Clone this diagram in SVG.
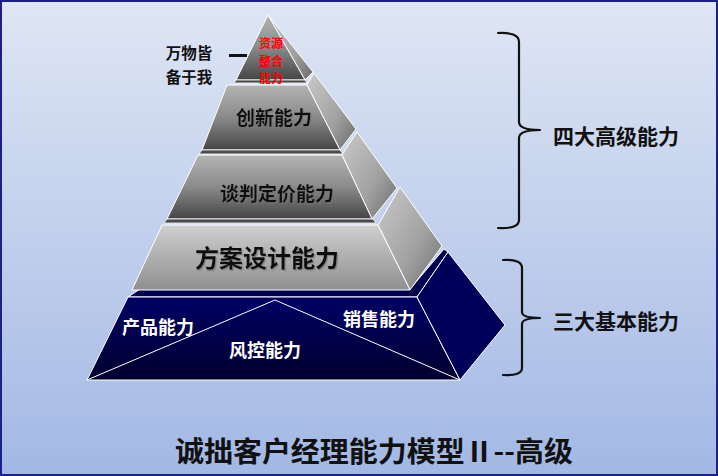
<svg xmlns="http://www.w3.org/2000/svg" width="718" height="476" viewBox="0 0 718 476">
<defs>
<linearGradient id="bg" x1="0" y1="0" x2="0" y2="1">
<stop offset="0" stop-color="#dfe6f4"/>
<stop offset="1" stop-color="#a2b8e4"/>
</linearGradient>
<linearGradient id="gDark" x1="0" y1="0" x2="0" y2="1">
<stop offset="0" stop-color="#b4b4b4"/>
<stop offset="0.5" stop-color="#8a8a8a"/>
<stop offset="1" stop-color="#454545"/>
</linearGradient>
<linearGradient id="gLight" x1="0" y1="0" x2="0" y2="1">
<stop offset="0" stop-color="#cfcfcf"/>
<stop offset="1" stop-color="#8f8f8f"/>
</linearGradient>
<linearGradient id="gSide" x1="0" y1="0" x2="1" y2="1">
<stop offset="0" stop-color="#cacaca"/>
<stop offset="0.6" stop-color="#a0a0a0"/>
<stop offset="1" stop-color="#6a6a6a"/>
</linearGradient>
<linearGradient id="gBlue" x1="0" y1="0" x2="0" y2="1">
<stop offset="0" stop-color="#000066"/>
<stop offset="1" stop-color="#00002e"/>
</linearGradient>
<filter id="sh" x="-10%" y="-10%" width="130%" height="140%">
<feDropShadow dx="1.2" dy="1.2" stdDeviation="0.6" flood-color="#777" flood-opacity="0.8"/>
</filter>
</defs>
<style>
.edge{stroke:#ffffff;stroke-width:1;stroke-linejoin:round}
.strip{fill:#4a4a4a;stroke:#ffffff;stroke-width:0.8}
.lbl{font-family:"Noto Sans CJK SC","Noto Sans",sans-serif;font-weight:bold;fill:#111;text-anchor:middle}
.wlbl{font-family:"Noto Sans CJK SC","Noto Sans",sans-serif;font-weight:bold;fill:#ffffff;text-anchor:middle}
.red{font-family:"Noto Sans CJK SC","Noto Sans",sans-serif;font-weight:bold;fill:#ff0000;text-anchor:middle;font-size:12px}
.brace{fill:none;stroke:#111;stroke-width:2.2;stroke-linejoin:round;stroke-linecap:round}
</style>
<rect x="1" y="1" width="716" height="474" fill="url(#bg)" stroke="#1e1e8c" stroke-width="2"/>

<g id="base-layer">
<polygon points="128,297 140,289 410,289 444,249 448,252 417,297" fill="#000050" class="edge"/>
<polygon points="128,297 417,297 460,380 87,380" fill="url(#gBlue)" class="edge"/>
<polygon points="417,297 448,252 505,325 460,380" fill="#00005a" class="edge"/>
<polyline points="87,380 275,300 460,380" fill="none" stroke="#ffffff" stroke-width="1"/>
<text class="wlbl" x="158" y="334" font-size="18">产品能力</text>
<text class="wlbl" x="265" y="357" font-size="18">风控能力</text>
<text class="wlbl" x="379" y="326" font-size="18">销售能力</text>
</g>

<g id="layer-fangan">
<polygon points="378,225 400,187 442,246 410,290" fill="url(#gSide)" class="edge"/>
<polygon points="162,225 378,225 410,290 132,290" fill="url(#gLight)" class="edge"/>
<text class="lbl" x="267" y="267" font-size="24" filter="url(#sh)">方案设计能力</text>
</g>

<g id="layer-tanpan">
<polygon points="342,155 357,132 397,188 372,219" fill="url(#gSide)" class="edge"/>
<polygon points="198,155 342,155 372,219 167,219" fill="url(#gDark)" class="edge"/>
<polygon points="167,219 373,219 376,223 164,223" class="strip"/>
<text class="lbl" x="277" y="201" font-size="19" filter="url(#sh)">谈判定价能力</text>
</g>

<g id="layer-chuangxin">
<polygon points="307,85 314,73 356,129 340,150" fill="url(#gSide)" class="edge"/>
<polygon points="227,85 307,85 340,150 202,150" fill="url(#gDark)" class="edge"/>
<polygon points="202,150 340,150 343,154 199,154" class="strip"/>
<text class="lbl" x="274" y="125" font-size="19" filter="url(#sh)">创新能力</text>
</g>

<g id="layer-ziyuan">
<polygon points="268,15 313,72 305,80" fill="url(#gSide)" class="edge"/>
<polygon points="268,15 305,80 236,80" fill="url(#gDark)" class="edge"/>
<polygon points="236,80 305,80 307,83 234,83" class="strip"/>
<text class="red" x="271" y="48">资源</text>
<text class="red" x="271" y="65.5">整合</text>
<text class="red" x="271" y="83">能力</text>
</g>

<g id="note">
<text class="lbl" x="189" y="59" font-size="15.5">万物皆</text>
<text class="lbl" x="189" y="83" font-size="15.5">备于我</text>
<line x1="229" y1="55.5" x2="247" y2="55.5" stroke="#111" stroke-width="3"/>
</g>

<g id="connectors">
<path class="brace" d="M498,33 Q519,32 519,42 L519,122 Q519,130 540,130 Q519,130 519,138 L519,220 Q519,229 498,228"/>
<path class="brace" d="M503,260 Q522,259 522,268 L522,312 Q522,318 540,318 Q522,318 522,324 L522,368 Q522,376 503,375"/>
</g>

<g id="brace-labels">
<text class="lbl" x="616" y="144" font-size="21">四大高级能力</text>
<text class="lbl" x="616" y="329" font-size="21">三大基本能力</text>
</g>

<text class="lbl" x="374" y="462" font-size="28" textLength="398" lengthAdjust="spacingAndGlyphs">诚拙客户经理能力模型Ⅱ--高级</text>
</svg>
